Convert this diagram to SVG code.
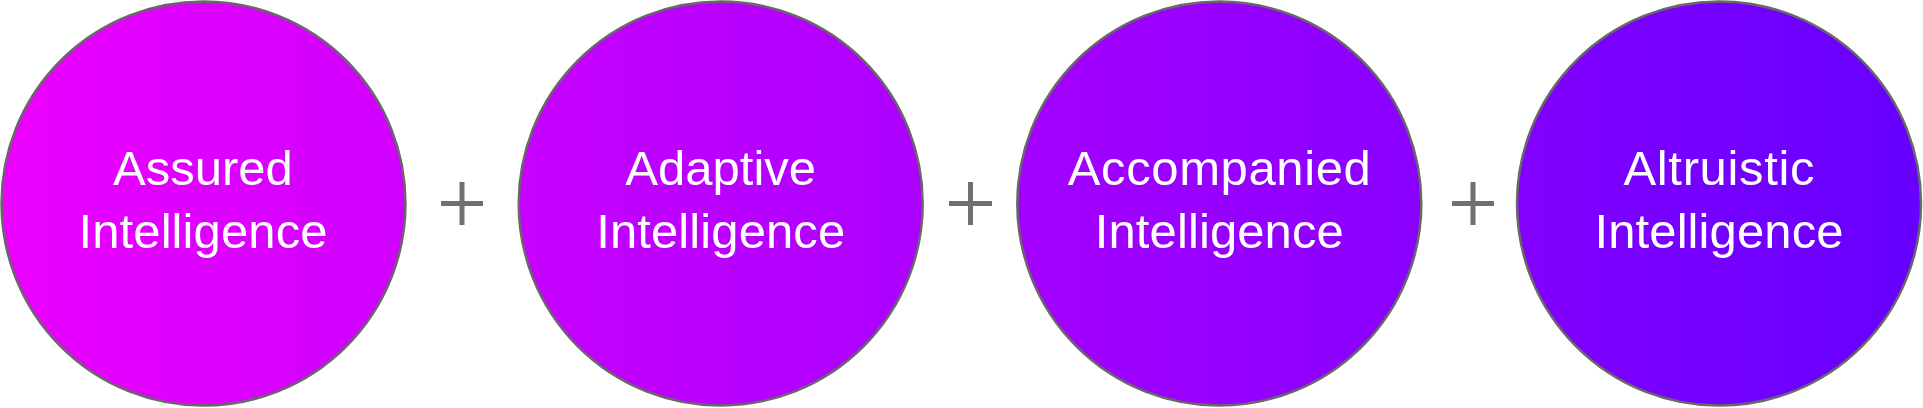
<svg xmlns="http://www.w3.org/2000/svg" width="1923" height="408" viewBox="0 0 1923 408">
  <style>
    .node { stroke: #686868; stroke-width: 2.5; fill: url(#grad); }
    .label { font-family: "Liberation Sans", Arial, sans-serif; font-size: 49px; fill: #FFFFFF; text-anchor: middle; }
    .plus { fill: #707070; }
  </style>
  <defs>
    <linearGradient id="grad" gradientUnits="userSpaceOnUse" x1="0" y1="0" x2="1923" y2="0">
      <stop offset="0" stop-color="#EC00FF"/>
      <stop offset="1" stop-color="#6600FF"/>
    </linearGradient>
  </defs>
  <rect width="1923" height="408" fill="#FFFFFF"/>
  <g id="node-assured">
    <circle class="node" cx="203.5" cy="203.5" r="202"/>
    <text class="label" x="203" y="185">Assured</text>
    <text class="label" x="203" y="248" textLength="249">Intelligence</text>
  </g>
  <g id="node-adaptive">
    <circle class="node" cx="720.7" cy="203.5" r="202"/>
    <text class="label" x="720.7" y="185">Adaptive</text>
    <text class="label" x="720.7" y="248" textLength="249">Intelligence</text>
  </g>
  <g id="node-accompanied">
    <circle class="node" cx="1219.3" cy="203.5" r="202"/>
    <text class="label" x="1219.3" y="185" textLength="303">Accompanied</text>
    <text class="label" x="1219.3" y="248" textLength="249">Intelligence</text>
  </g>
  <g id="node-altruistic">
    <circle class="node" cx="1719" cy="203.5" r="202"/>
    <text class="label" x="1719" y="185" textLength="191">Altruistic</text>
    <text class="label" x="1719" y="248" textLength="249">Intelligence</text>
  </g>
  <g id="connectors">
    <g id="plus-1">
      <rect class="plus" x="441" y="201" width="42" height="5"/>
      <rect class="plus" x="459.5" y="182" width="5" height="43"/>
    </g>
    <g id="plus-2">
      <rect class="plus" x="949" y="201" width="43" height="5"/>
      <rect class="plus" x="968" y="182" width="5" height="43"/>
    </g>
    <g id="plus-3">
      <rect class="plus" x="1452" y="201" width="42" height="5"/>
      <rect class="plus" x="1470.5" y="182" width="5" height="43"/>
    </g>
  </g>
</svg>
